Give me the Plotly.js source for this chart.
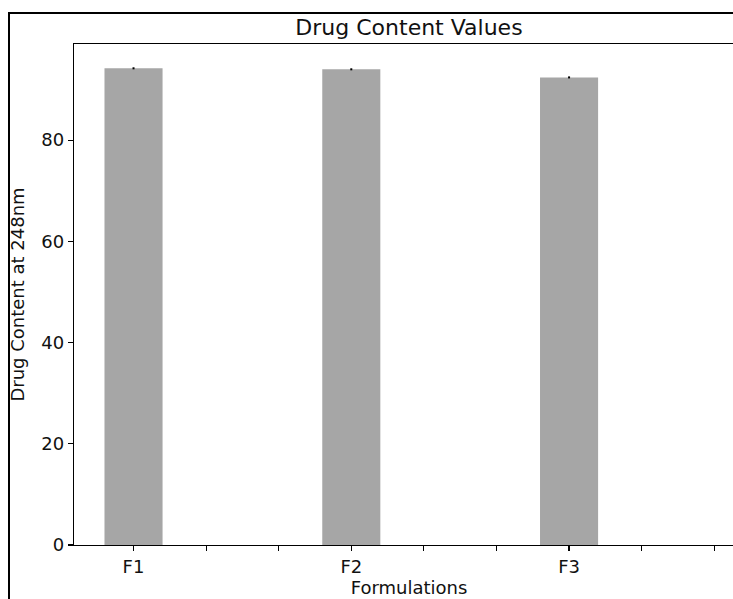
<!DOCTYPE html>
<html>
<head>
<meta charset="utf-8">
<script src="https://cdn.plot.ly/plotly-3.0.1.min.js"></script>
<style>
html, body { margin: 0; padding: 0; overflow: hidden; background: #fff; }
#chart { width: 746px; height: 599px; }
</style>
</head>
<body>
<div id="chart"></div>
<script>
// Data
const categories = ['F1', 'F2', 'F3'];
const drugContent = [94.2, 94.0, 92.4];
const errors = [0.2, 0.2, 0.2];
const tickLabels = ['F1', '', '', 'F2', '', '', 'F3', '', ''];

const xPositions = categories.map((c, i) => i * 3);
const tickPositions = tickLabels.map((t, i) => i);

const trace = {
  type: 'bar',
  x: xPositions,
  y: drugContent,
  width: 0.8,
  marker: { color: '#a6a6a6', line: { width: 0 } },
  error_y: { type: 'data', array: errors, visible: true, color: '#000', thickness: 2, width: 0 },
  hoverinfo: 'skip'
};

// pixel geometry helpers
const W = 746, H = 599, L = 74, R = 2, T = 44, B = 54;
const pw = W - L - R, ph = H - T - B;
const px2paperX = p => (p - L) / pw;
const px2paperY = p => (H - B - p) / ph;

const layout = {
  width: W, height: H,
  margin: { l: L, r: R, t: T, b: B, pad: 0 },
  paper_bgcolor: '#fff', plot_bgcolor: '#fff',
  font: { family: 'DejaVu Sans', size: 18, color: '#111' },
  showlegend: false,
  title: {
    text: 'Drug Content Values',
    font: { family: 'DejaVu Sans', size: 22, color: '#111' },
    xref: 'paper', x: 0.5, xanchor: 'center',
    yref: 'container', y: 1 - 27 / H, yanchor: 'middle'
  },
  xaxis: {
    range: [-0.82, 8.41],
    tickmode: 'array', tickvals: tickPositions, ticktext: tickLabels,
    ticks: 'outside', ticklen: 5, tickwidth: 1.2, tickcolor: '#000',
    showline: true, linecolor: '#000', linewidth: 1.2, mirror: true,
    showgrid: false, zeroline: false,
    tickfont: { size: 18 },
    title: { text: 'Formulations', font: { size: 18 }, standoff: 3 },
    automargin: false
  },
  yaxis: {
    range: [0, 99],
    tickmode: 'array', tickvals: [0, 20, 40, 60, 80],
    ticks: 'outside', ticklen: 5, tickwidth: 1.2, tickcolor: '#000',
    showline: true, linecolor: '#000', linewidth: 1.2, mirror: true,
    showgrid: false, zeroline: false,
    tickfont: { size: 18 },
    title: { text: 'Drug Content at 248nm', font: { size: 18 }, standoff: 12 },
    automargin: false
  },
  shapes: [{
    type: 'rect', xref: 'paper', yref: 'paper',
    x0: px2paperX(9), x1: px2paperX(W + 20),
    y0: px2paperY(H + 20), y1: px2paperY(13),
    line: { color: '#000', width: 2 }, fillcolor: 'rgba(0,0,0,0)', layer: 'above'
  }]
};

Plotly.newPlot('chart', [trace], layout, { displayModeBar: false, staticPlot: true });
</script>
</body>
</html>
